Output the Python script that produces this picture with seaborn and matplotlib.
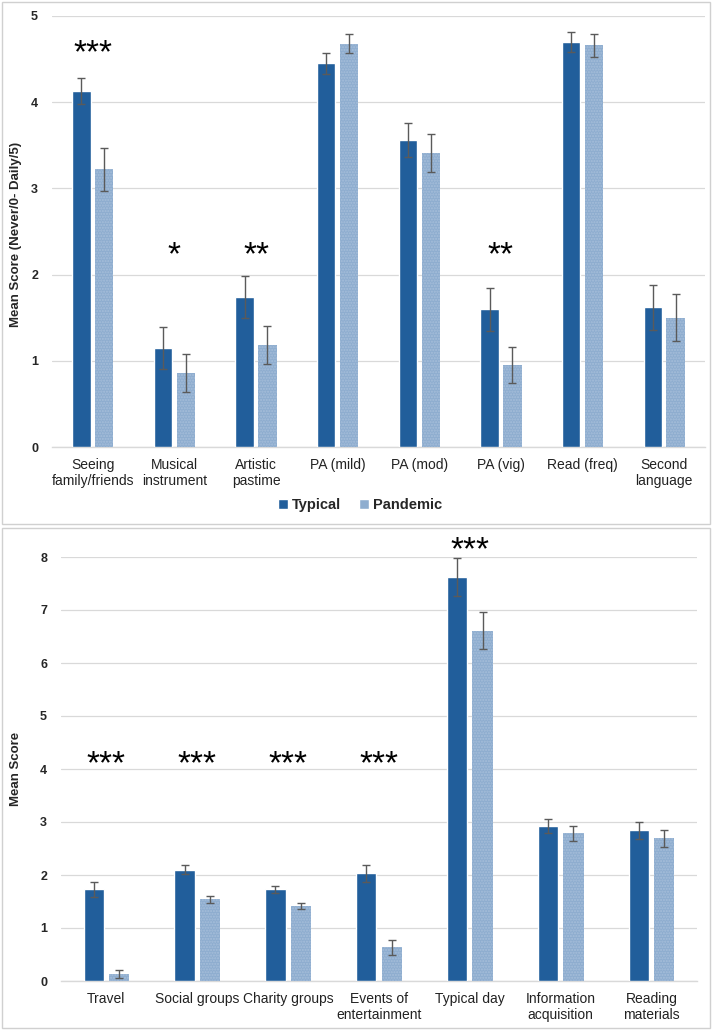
import numpy as np
import pandas as pd
import matplotlib
matplotlib.use("Agg")
import matplotlib.pyplot as plt
import seaborn as sns
from matplotlib.patches import Patch, Rectangle

# ---- data: top panel ----
top_cats = ["Seeing\nfamily/friends", "Musical\ninstrument", "Artistic\npastime", "PA (mild)",
            "PA (mod)", "PA (vig)", "Read (freq)", "Second\nlanguage"]
top_typical = [4.13, 1.15, 1.74, 4.45, 3.56, 1.60, 4.70, 1.62]
top_pandemic = [3.22, 0.86, 1.18, 4.68, 3.41, 0.95, 4.66, 1.50]
top_typical_err = [0.15, 0.24, 0.24, 0.12, 0.20, 0.25, 0.12, 0.26]
top_pandemic_err = [0.25, 0.22, 0.22, 0.11, 0.22, 0.21, 0.13, 0.27]
top_sig = ["***", "*", "**", "", "", "**", "", ""]
top_sig_y = [4.56, 2.22, 2.22, 0, 0, 2.22, 0, 0]

# ---- data: bottom panel ----
bot_cats = ["Travel", "Social groups", "Charity groups", "Events of\nentertainment",
            "Typical day", "Information\nacquisition", "Reading\nmaterials"]
bot_typical = [1.73, 2.10, 1.73, 2.03, 7.63, 2.93, 2.84]
bot_pandemic = [0.13, 1.54, 1.41, 0.64, 6.61, 2.79, 2.69]
bot_typical_err = [0.14, 0.09, 0.07, 0.16, 0.36, 0.13, 0.16]
bot_pandemic_err = [0.08, 0.07, 0.06, 0.14, 0.35, 0.14, 0.16]
bot_sig = ["***", "***", "***", "***", "***", "", ""]
bot_sig_y = [4.08, 4.08, 4.08, 4.08, 8.12, 0, 0]

groups = ["Typical", "Pandemic"]
C_TYP = "#215E9B"
C_PAN = "#8EADCF"
GRID = "#D9D9D9"

sns.set_theme(style="white")
plt.rcParams["font.family"] = ["Liberation Sans", "DejaVu Sans"]

fig = plt.figure(figsize=(7.12, 10.30), dpi=100)

# panel borders
for (y0, y1) in [(2, 524), (528, 1028)]:
    fig.patches.append(Rectangle((2 / 712, 1 - y1 / 1030), 708 / 712, (y1 - y0) / 1030,
                                 transform=fig.transFigure, fill=False,
                                 edgecolor="#D0D0D0", lw=1.0, zorder=0))

ax1 = fig.add_axes([52 / 712, 1 - 447 / 1030, (705 - 52) / 712, (447 - 16) / 1030])
ax2 = fig.add_axes([61 / 712, 1 - 981 / 1030, (697 - 61) / 712, (981 - 557) / 1030])


def draw(ax, cats, typ, pan, terr, perr, sig, sigy, ymax, ylabel, ylab_y):
    df = pd.DataFrame({
        "cat": cats * 2,
        "grp": [groups[0]] * len(cats) + [groups[1]] * len(cats),
        "val": typ + pan,
    })
    sns.barplot(data=df, x="cat", y="val", hue="grp", hue_order=groups,
                palette=[C_TYP, C_PAN], width=0.56, gap=0.2, errorbar=None,
                legend=False, ax=ax, zorder=3, saturation=1)
    # hatch on pandemic
    for p in ax.containers[1]:
        p.set_hatch("......")
        p.set_edgecolor("#A6BEDA")
        p.set_linewidth(0)
    for cont, err in zip(ax.containers, [terr, perr]):
        xs = [p.get_x() + p.get_width() / 2 for p in cont]
        hs = [p.get_height() for p in cont]
        ax.errorbar(xs, hs, yerr=err, fmt="none", ecolor="#5A5A5A",
                    elinewidth=1.0, capsize=3, capthick=1.0, zorder=4)
    for i, (s, y) in enumerate(zip(sig, sigy)):
        if s:
            ax.text(i, y, s, ha="center", va="center", fontsize=24,
                    color="black", clip_on=False)
    ax.set_ylim(0, ymax)
    ax.set_xlim(-0.5, len(cats) - 0.5)
    ax.set_yticks(range(0, ymax + 1))
    ax.grid(axis="y", color=GRID, lw=0.9, zorder=0)
    ax.set_axisbelow(True)
    for s in ["top", "right", "left"]:
        ax.spines[s].set_visible(False)
    ax.spines["bottom"].set_color(GRID)
    ax.spines["bottom"].set_linewidth(1.0)
    ax.tick_params(axis="both", length=0)
    ax.tick_params(axis="x", labelsize=10, colors="#222222", pad=8)
    ax.tick_params(axis="y", labelsize=9, pad=10)
    for t in ax.get_yticklabels():
        t.set_fontweight("bold")
    ax.set_xlabel("")
    ax.set_ylabel(ylabel, fontsize=9.5, fontweight="bold")
    ax.yaxis.set_label_coords(22 / 712, 1 - ylab_y / 1030, transform=fig.transFigure)


draw(ax1, top_cats, top_typical, top_pandemic, top_typical_err, top_pandemic_err,
     top_sig, top_sig_y, 5, "Mean Score (Never/0- Daily/5)", 234)
draw(ax2, bot_cats, bot_typical, bot_pandemic, bot_typical_err, bot_pandemic_err,
     bot_sig, bot_sig_y, 8, "Mean Score", 769)

handles = [Patch(facecolor=C_TYP, label=groups[0]),
           Patch(facecolor=C_PAN, label=groups[1])]
fig.legend(handles=handles, loc="center", bbox_to_anchor=(360 / 712, 1 - 505 / 1030),
           ncol=2, frameon=False, handlelength=0.7, handleheight=0.7,
           handletextpad=0.3, columnspacing=1.2, prop={"weight": "bold", "size": 10.5})

fig.savefig("out.png", dpi=100)
